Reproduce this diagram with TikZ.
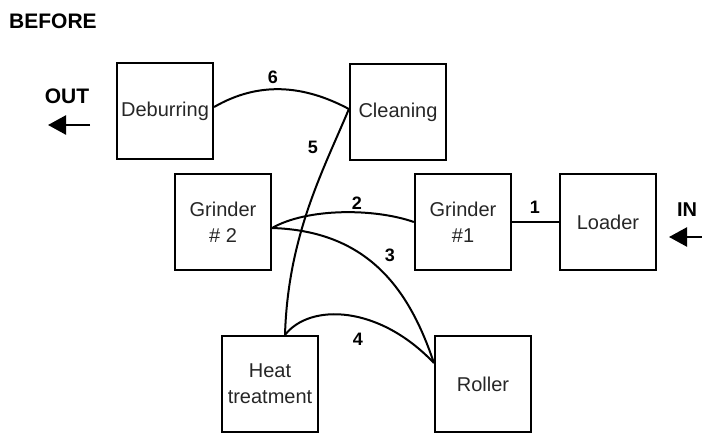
\documentclass[tikz,border=0pt]{standalone}
\usepackage{fontspec}
\setmainfont{Liberation Sans}
\usetikzlibrary{arrows.meta}
\begin{document}
\begin{tikzpicture}[x=1pt,y=1pt,
 box/.style={draw, line width=2.2pt, minimum width=96pt, minimum height=96pt, inner sep=0pt, align=center, font=\fontsize{20}{26}\selectfont, text=black!85},
 conn/.style={line width=2pt},
 num/.style={font=\fontsize{18}{20}\selectfont\bfseries},
 ttl/.style={font=\fontsize{21}{24}\selectfont\bfseries},
 flow/.style={line width=2.4pt, -{Triangle[length=18pt,width=19pt]}}]
\useasboundingbox (0,0) rectangle (702,-434);
\node[ttl] (before) at (53,-21) {BEFORE};
\node[box] (deb) at (165,-111) {Deburring};
\node[box] (clean) at (398,-112) {Cleaning};
\node[box] (g2) at (223,-222) {Grinder\\\# 2};
\node[box] (g1) at (463,-222) {Grinder\\\#1};
\node[box] (loader) at (608,-222) {Loader};
\node[box] (heat) at (270,-384) {Heat\\treatment};
\node[box] (roller) at (483,-384) {Roller};
% connectors
\draw[conn] ([yshift=4pt]deb.east) .. controls +(45,26) and +(-45,24) .. ([yshift=3pt]clean.west);
\draw[conn] ([xshift=15pt]heat.north) .. controls +(3,100) and +(-25,-60) .. ([yshift=3pt]clean.west);
\draw[conn] ([yshift=-6pt]g2.east) .. controls +(35,20) and +(-40,14) .. (g1.west);
\draw[conn] ([yshift=-6pt]g2.east) .. controls +(95,-3) and +(-25,75) .. ([yshift=21pt]roller.west);
\draw[conn] ([xshift=15pt]heat.north) .. controls +(25,32) and +(-55,58) .. ([yshift=21pt]roller.west);
\draw[conn] (g1.east) -- (loader.west);
% numbers
\node[num] (n6) at (273,-77) {6};
\node[num] (n5) at (313,-147) {5};
\node[num] (n2) at (357,-203) {2};
\node[num] (n3) at (390,-255) {3};
\node[num] (n1) at (535,-207) {1};
\node[num] (n4) at (358,-339) {4};
% in / out
\node[ttl] (out) at (67,-96) {OUT};
\coordinate (outS) at (90,-125);
\coordinate (outE) at (48,-125);
\draw[flow] (outS) -- (outE);
\node[ttl, font=\fontsize{20}{24}\selectfont\bfseries] (in) at (687,-210) {IN};
\coordinate (inS) at (702,-237);
\coordinate (inE) at (669,-237);
\draw[flow] (inS) -- (inE);
\end{tikzpicture}
\end{document}
